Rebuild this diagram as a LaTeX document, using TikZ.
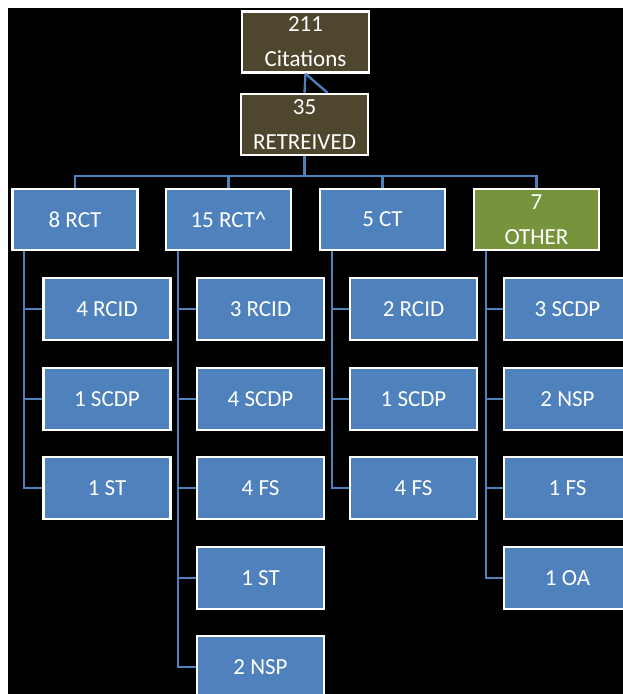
\documentclass[tikz,border=0pt]{standalone}
\usepackage{fontspec}
\setmainfont{Carlito}
\usetikzlibrary{positioning}

\definecolor{boxblue}{RGB}{79,129,189}
\definecolor{boxbrown}{RGB}{78,70,45}
\definecolor{boxgreen}{RGB}{119,147,60}

\tikzset{
    box/.style={draw=white, line width=2.5pt, fill=boxblue, text=white,
        align=center, inner sep=0pt, font=\fontsize{23}{35}\selectfont},
    topbox/.style={box, fill=boxbrown, minimum width=127pt, minimum height=61pt},
    groupbox/.style={box, minimum width=125pt, minimum height=61pt},
    leafbox/.style={box, minimum width=127pt, minimum height=62pt},
    link/.style={draw=boxblue, line width=2.3pt}
}

\begin{document}
\begin{tikzpicture}[x=1pt, y=-1pt]
    \useasboundingbox (0,0) rectangle (623,694);
    \clip (0,0) rectangle (623,694);
    \fill[white] (0,0) rectangle (623,694);
    \fill[black] (8,8) rectangle (623,694);

    % top of the tree
    \node[topbox] (cit) at (305.5,42) {211\\Citations};
    \node[topbox] (ret) at (304.5,124.5) {35\\RETREIVED};

    % four groups
    \node[groupbox] (rct8) at (75,219.5) {8 RCT};
    \node[groupbox] (rct15) at (228.5,219.5) {15 RCT\^{}};
    \node[groupbox] (ct5) at (382.5,219.5) {5 CT};
    \node[groupbox, fill=boxgreen] (oth7) at (536.5,219.5) {7\\OTHER};

    % 8 RCT
    \node[leafbox] (a1) at (107,309) {4 RCID};
    \node[leafbox] (a2) at (107,399) {1 SCDP};
    \node[leafbox] (a3) at (107,488) {1 ST};
    % 15 RCT^
    \node[leafbox] (b1) at (260.5,309) {3 RCID};
    \node[leafbox] (b2) at (260.5,399) {4 SCDP};
    \node[leafbox] (b3) at (260.5,488) {4 FS};
    \node[leafbox] (b4) at (260.5,578) {1 ST};
    \node[leafbox] (b5) at (260.5,667) {2 NSP};
    % 5 CT
    \node[leafbox] (c1) at (413.5,309) {2 RCID};
    \node[leafbox] (c2) at (413.5,399) {1 SCDP};
    \node[leafbox] (c3) at (413.5,488) {4 FS};
    % 7 OTHER
    \node[leafbox] (d1) at (567.5,309) {3 SCDP};
    \node[leafbox] (d2) at (567.5,399) {2 NSP};
    \node[leafbox] (d3) at (567.5,488) {1 FS};
    \node[leafbox] (d4) at (567.5,578) {1 OA};

    % connectors
    \coordinate (retjoin) at ([xshift=23pt]ret.north);
    \draw[link] (cit.south) -- (ret.north);
    \draw[link] (cit.south) -- (retjoin);
    \foreach \g in {rct8, rct15, ct5, oth7}
        \draw[link] (ret.south) -- ++(0,20) -| (\g.north);
    \foreach \g/\c in {rct8/a1, rct8/a2, rct8/a3,
                       rct15/b1, rct15/b2, rct15/b3, rct15/b4, rct15/b5,
                       ct5/c1, ct5/c2, ct5/c3,
                       oth7/d1, oth7/d2, oth7/d3, oth7/d4}
        \draw[link] ([xshift=13pt]\g.south west) |- (\c.west);
\end{tikzpicture}
\end{document}
